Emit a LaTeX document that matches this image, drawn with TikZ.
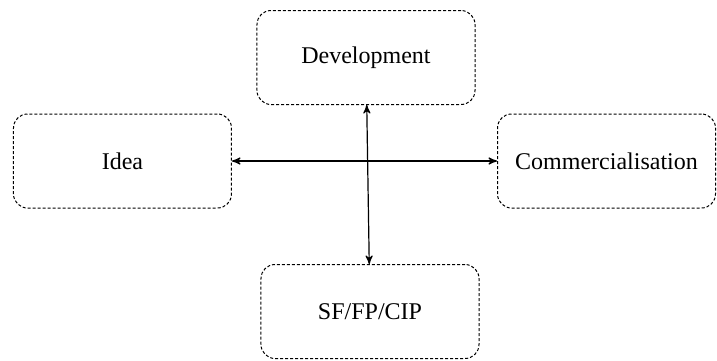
\documentclass[tikz,border=0pt]{standalone}
\usepackage{fontspec}
\setmainfont{Liberation Serif}
\usepackage{tikz}
\usetikzlibrary{arrows,calc,positioning}

\begin{document}
\begin{tikzpicture}[>=stealth', transform shape, font=\fontsize{12}{14}\selectfont]
\newcommand{\stagebox}[1][]{\node [#1, draw, dash pattern=on 1.5pt off 1pt, rounded corners=7pt, line width=.5pt, minimum width=109pt, minimum height=47pt]}
\coordinate (c);
\useasboundingbox ($(c)+(-183pt,80.5pt)$) rectangle ($(c)+(175.5pt,-99.5pt)$);

\stagebox [left=67pt of c] (I) {Idea};
\stagebox [right=65.5pt of c] (C) {Commercialisation};
\stagebox [above=28pt of c, minimum width=113pt] (D) {Development};
\stagebox [below=51.5pt of c, xshift=2pt] (S) {SF/FP/CIP};

\draw [<->, line width=.6pt] (I) -- (C);
\draw [<->, line width=.6pt] (D) -- (S);
\end{tikzpicture}
\end{document}
